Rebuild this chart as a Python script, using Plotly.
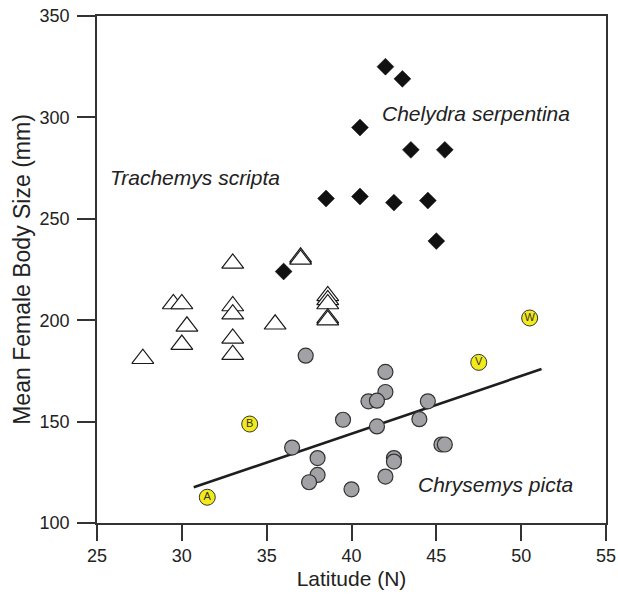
import plotly.graph_objects as go

# Trachemys scripta (open triangles)
tri_lat = [27.7, 29.5, 30.0, 30.3, 30.0, 33.0, 33.0, 33.0, 33.0, 33.0, 35.5, 37.0, 37.0, 38.6, 38.6, 38.6, 38.6, 38.6]
tri_size = [181, 208, 208, 197, 188, 228, 207, 203, 191, 183, 198, 231, 230, 212, 210, 208, 201, 200]

# Chelydra serpentina (filled diamonds)
dia_lat = [42.0, 43.0, 40.5, 43.5, 45.5, 38.5, 40.5, 42.5, 44.5, 45.0, 36.0]
dia_size = [325, 319, 295, 284, 284, 260, 261, 258, 259, 239, 224]

# Chrysemys picta (gray circles)
cir_lat = [37.3, 42.0, 42.0, 41.0, 41.5, 44.5, 39.5, 41.5, 44.0, 45.3, 45.5, 36.5, 38.0, 38.0, 37.5, 40.0, 42.0, 42.5, 42.5]
cir_size = [182.5, 174.5, 164.6, 160.0, 160.3, 160.0, 150.9, 147.6, 151.2, 138.7, 138.7, 137.2, 132.0, 123.7, 120.1, 116.6, 122.9, 132.0, 130.3]

# Labelled populations (yellow circles)
lab_lat = [31.5, 34.0, 47.5, 50.5]
lab_size = [112.7, 148.8, 179.2, 201.1]
lab_text = ["A", "B", "V", "W"]

# Regression line for C. picta
reg_lat = [30.7, 51.2]
reg_size = [117.6, 175.9]

FONT = "Liberation Sans, Arial, Helvetica, sans-serif"

fig = go.Figure()
fig.add_trace(go.Scatter(x=reg_lat, y=reg_size, mode="lines",
                         line=dict(color="#1e1e1e", width=2.6), showlegend=False))
fig.add_trace(go.Scatter(x=tri_lat, y=tri_size, mode="markers",
                         marker=dict(symbol="triangle-up", size=19, color="white",
                                     line=dict(color="#1a1a1a", width=1.2)), showlegend=False))
fig.add_trace(go.Scatter(x=dia_lat, y=dia_size, mode="markers",
                         marker=dict(symbol="diamond", size=13, color="#111111",
                                     line=dict(color="#111111", width=0.5)), showlegend=False))
fig.add_trace(go.Scatter(x=cir_lat, y=cir_size, mode="markers",
                         marker=dict(symbol="circle", size=15, color="#a2a2a6",
                                     line=dict(color="#333333", width=1.2)), showlegend=False))
fig.add_trace(go.Scatter(x=lab_lat, y=lab_size, mode="markers+text", text=lab_text,
                         textposition="middle center",
                         textfont=dict(family=FONT, size=11, color="#333333"),
                         marker=dict(symbol="circle", size=16, color="#f2ea1a",
                                     line=dict(color="#333333", width=1.0)), showlegend=False))

ann = [
    dict(x=47.35, y=302, text="<i>Chelydra serpentina</i>"),
    dict(x=30.8, y=270.5, text="<i>Trachemys scripta</i>"),
    dict(x=48.5, y=118.8, text="<i>Chrysemys picta</i>"),
]
for a in ann:
    fig.add_annotation(x=a["x"], y=a["y"], text=a["text"], showarrow=False,
                       font=dict(family=FONT, size=21, color="#222222"),
                       xanchor="center", yanchor="middle")

axis_common = dict(showgrid=False, zeroline=False, showline=True, linecolor="#333333",
                   linewidth=1.5, mirror=True, ticks="outside", tickcolor="#333333",
                   tickwidth=1.5, automargin=False,
                   tickfont=dict(family=FONT, size=18, color="#222222"))

fig.update_xaxes(range=[25, 55], tickvals=[25, 30, 35, 40, 45, 50, 55], ticklen=16,
                 title=dict(text="Latitude (N)", font=dict(family=FONT, size=21, color="#222222"),
                            standoff=6),
                 **axis_common)
fig.update_yaxes(range=[100, 350], tickvals=[100, 150, 200, 250, 300, 350], ticklen=18,
                 ticklabelstandoff=4,
                 title=dict(text="Mean Female Body Size (mm)",
                            font=dict(family=FONT, size=23, color="#222222"), standoff=3),
                 **axis_common)

fig.update_layout(width=618, height=595, margin=dict(l=97, r=12, t=16, b=72),
                  plot_bgcolor="white", paper_bgcolor="white")

fig.write_html("out.html")
